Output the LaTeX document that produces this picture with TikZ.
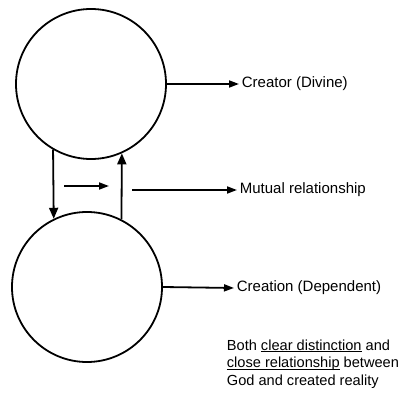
\documentclass[tikz,border=0pt]{standalone}
\usepackage{fontspec}
\setmainfont{Liberation Sans}
\usetikzlibrary{arrows.meta}
\usetikzlibrary{positioning}
\newcommand{\undl}[1]{\setbox0\hbox{#1}\rlap{\rule[-2pt]{\wd0}{0.8pt}}\box0\relax}

\begin{document}
\begin{tikzpicture}[x=1pt,y=-1pt,line width=1.8pt]
        \useasboundingbox (0,0) rectangle (413,401);

        \begin{scope}[every node/.style={circle,draw,line width=1.8pt,minimum size=150pt,inner sep=0pt}]
            \node (God) at (91,84) {};
            \node (World) at (87,287) {};
        \end{scope}

        \begin{scope}[every node/.style={anchor=west,inner sep=2pt,font=\fontsize{15}{17.5}\selectfont}]
            \node (Divine) at (239,84) {Creator (Divine)};
            \node (Mutual) at (237,190) {Mutual relationship};
            \node (Dependent) at (234,288) {Creation (Dependent)};
            \node[align=left,font=\fontsize{14.6}{17.6}\selectfont] (Both) at (224,364) {Both \undl{clear distinction} and\\
                \undl{close relationship} between\\God and created reality};
        \end{scope}

        \coordinate (arrA) at (64,186);
        \coordinate (arrB) at (109,186);
        \coordinate (relA) at (132,190);

        \begin{scope}[>={Triangle[length=10pt,width=7pt]}]
            \path [->] (God.east) edge (Divine.west);
            \path [->] (relA) edge (Mutual.west);
            \path [->] (World.east) edge (Dependent.west);
            \path [->] (arrA) edge (arrB);
        \end{scope}

        \begin{scope}[>={Triangle[length=11pt,width=9pt]}]
            \path [->] (God.240) edge (World.116);
            \path [->] (World.63) edge (God.294);
        \end{scope}
    \end{tikzpicture}
\end{document}
